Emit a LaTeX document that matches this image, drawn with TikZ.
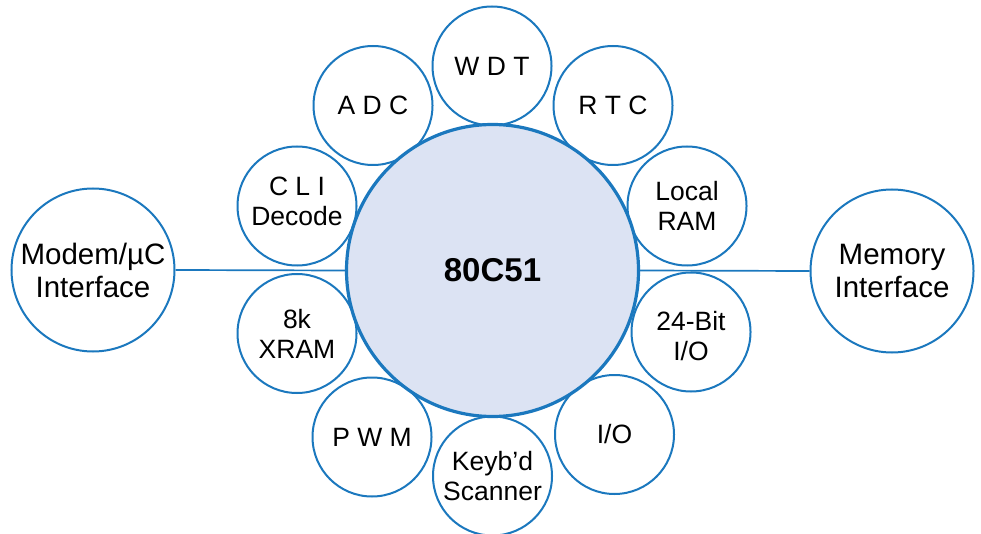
\documentclass[tikz,border=0pt]{standalone}
\usepackage{fontspec}
\setmainfont{Liberation Sans}
\definecolor{edge}{HTML}{1B78BE}
\definecolor{corefill}{HTML}{DCE3F3}
\begin{document}
\begin{tikzpicture}[x=1pt,y=-1pt,
  smalltext/.style={align=center,inner sep=0pt,font=\fontsize{26.5}{30}\selectfont},
  small/.style={circle,draw=edge,line width=2pt,fill=white,minimum size=119pt,inner sep=0pt,smalltext},
  big/.style={circle,draw=edge,line width=2pt,fill=white,minimum size=163pt,inner sep=0pt,align=center,font=\fontsize{29.5}{33}\selectfont},
  core/.style={circle,draw=edge,line width=3.2pt,fill=corefill,minimum size=292pt,inner sep=0pt,font=\fontsize{33}{40}\selectfont\bfseries},
  link/.style={draw=edge,line width=1.7pt}]
\useasboundingbox (0,0) rectangle (981,534);
\node[big] (modem) at (93,270) {Modem/µC\\Interface};
\node[big] (mem) at (892,271) {Memory\\Interface};
\node[small] (wdt) at (492,66) {W D T};
\node[small] (adc) at (373,105.5) {A D C};
\node[small] (rtc) at (613,105.5) {R T C};
\node[small,label={[smalltext,yshift=5pt]center:C L I\\Decode}] (cli) at (297,206) {};
\node[small] (lram) at (687,206) {Local\\RAM};
\node[small] (xram) at (297,333.5) {8k\\XRAM};
\node[small,label={[smalltext,yshift=-4pt]center:24-Bit\\I/O}] (bit) at (691,332) {};
\node[small] (pwm) at (372,437) {P W M};
\node[small] (io) at (614.5,434.5) {I/O};
\node[small] (kb) at (492.5,476) {Keyb’d\\Scanner};
\node[core] (cpu) at (492.5,270.5) {80C51};
\draw[link] (modem.east) -- (cpu.west);
\draw[link] (cpu.east) -- (mem.west);
\end{tikzpicture}
\end{document}
